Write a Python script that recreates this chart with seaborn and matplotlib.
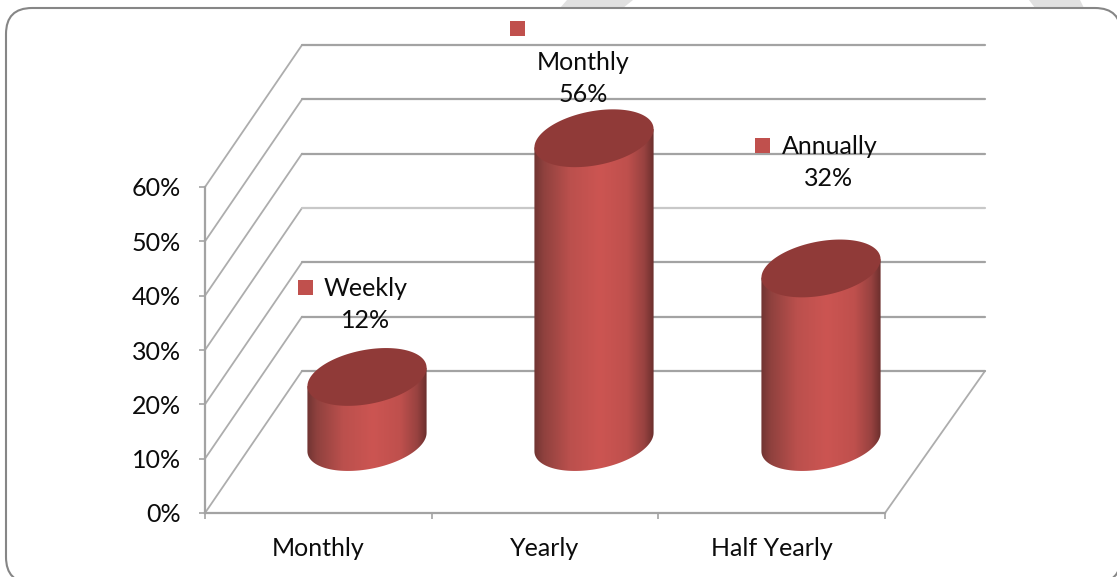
import numpy as np
import pandas as pd
import matplotlib
matplotlib.use("Agg")
import matplotlib.pyplot as plt
import seaborn as sns
from matplotlib.colors import LinearSegmentedColormap
from matplotlib.patches import ConnectionPatch, FancyBboxPatch, PathPatch, Polygon, Rectangle
from matplotlib.path import Path
from matplotlib.transforms import Affine2D

categories = ["Monthly", "Yearly", "Half Yearly"]
values = [0.12, 0.56, 0.32]
y_ticks = [0, 0.1, 0.2, 0.3, 0.4, 0.5, 0.6]
y_tick_labels = ["0%", "10%", "20%", "30%", "40%", "50%", "60%"]
label_names = ["Weekly", "Monthly", "Annually"]
label_values = ["12%", "56%", "32%"]

W, H = 1117, 577
GRID = "#a3a3a3"
TEXT = "#0c0c0c"
FS = 18

sns.set_style("white")
plt.rcParams["font.family"] = ["Lato", "DejaVu Sans"]

fig = plt.figure(figsize=(W / 100, H / 100), dpi=100)
px = Affine2D().scale(1, -1).translate(0, H)


def make_axes(x0, y_top, x1, y_bottom, zorder):
    a = fig.add_axes([x0 / W, 1 - y_bottom / H, (x1 - x0) / W, (y_bottom - y_top) / H], zorder=zorder)
    a.patch.set_alpha(0)
    return a


# frame and the bit of watermark poking over it
for pts in ([(560, 8), (567, 0), (633, 0), (623, 8)], [(1035, 8), (1029, 0), (1080, 0), (1084, 8)]):
    fig.add_artist(Polygon(pts, closed=True, transform=px, fc="#e0e0e0", ec="none", zorder=-3))
fig.add_artist(FancyBboxPatch((32, 34), 1063, 523, boxstyle="round,pad=26,rounding_size=26",
                              transform=px, fc="white", ec="#868686", lw=1.5, zorder=-2))

# back wall, pushed up and right for the fake depth
ax_back = make_axes(302, 45, 985, 371, 1)
ax_back.set_xlim(-0.5, 2.5)
ax_back.set_ylim(0, 0.6)
ax_back.set_xticks([])
ax_back.set_yticks(y_ticks)
ax_back.set_yticklabels([])
ax_back.grid(False)
ax_back.tick_params(length=0)
sns.despine(ax=ax_back, left=True, bottom=True)
for v in y_ticks:
    ax_back.plot([-0.5, 2.5], [v, v], color="#c8c8c8" if v == 0.3 else GRID, lw=1.6, clip_on=False)
ax_back.set_xlim(-0.5, 2.5)

# front axes with ticks and labels
ax = make_axes(205, 187, 885, 513, 1)
ax.set_xlim(-0.5, 2.5)
ax.set_ylim(0, 0.6)
ax.set_yticks(y_ticks)
ax.set_yticklabels(y_tick_labels, fontsize=FS, color=TEXT)
ax.set_xticks([-0.5, 0.5, 1.5, 2.5])
ax.set_xticklabels([])
ax.set_xticks(range(len(categories)), categories, minor=True, fontsize=FS, color=TEXT)
ax.tick_params(axis="y", left=True, length=4.5, width=1.2, color=GRID, pad=13)
ax.tick_params(axis="x", which="major", bottom=True, length=4.5, width=1.2, color=GRID)
ax.tick_params(axis="x", which="minor", bottom=False, length=0, pad=17)
sns.despine(ax=ax)
for side in ("left", "bottom"):
    ax.spines[side].set_color(GRID)
    ax.spines[side].set_linewidth(1.6)

# side wall and floor edges
for v in y_ticks:
    fig.add_artist(ConnectionPatch((-0.5, v), (-0.5, v), "data", "data", axesA=ax, axesB=ax_back,
                                   color="#adadad", lw=1.3, zorder=0.5))
fig.add_artist(ConnectionPatch((2.5, 0), (2.5, 0), "data", "data", axesA=ax, axesB=ax_back,
                               color="#adadad", lw=1.3, zorder=0.5))

# cylinders sit halfway into the depth
ax_bar = make_axes(253.5, 84, 934.5, 474.6, 2)
df = pd.DataFrame({"cat": categories, "val": values})
sns.barplot(data=df, x="cat", y="val", width=0.525, ax=ax_bar)

side_cmap = LinearSegmentedColormap.from_list(
    "cyl", [(0, "#703432"), (0.08, "#8f413e"), (0.3, "#bb504d"), (0.55, "#cc5552"),
            (0.78, "#bf504d"), (0.92, "#984240"), (1, "#6b2f2d")])
grad = np.linspace(0, 1, 256).reshape(1, -1)
TILT = 0.017
SEMI = 0.0505
t = np.linspace(np.pi, 2 * np.pi, 60)
for bar in list(ax_bar.patches):
    bar.set_visible(False)
    x0 = bar.get_x()
    w = bar.get_width()
    cx = x0 + w / 2
    a = w / 2
    top = bar.get_height()
    ex = cx + a * np.cos(t)
    front = np.column_stack([ex, SEMI * np.sin(t) + TILT * np.cos(t)])
    verts = np.vstack([front, [[cx + a, top + TILT], [cx - a, top - TILT], front[0]]])
    body = Path(verts, closed=True)
    im = ax_bar.imshow(grad, extent=[x0, x0 + w, -0.07, top + 0.05], aspect="auto", cmap=side_cmap, zorder=2)
    im.set_clip_path(PathPatch(body, transform=ax_bar.transData))
    tt = np.linspace(0, 2 * np.pi, 120)
    lid = np.column_stack([cx + a * np.cos(tt), top + SEMI * np.sin(tt) + TILT * np.cos(tt)])
    ax_bar.add_patch(Polygon(lid, closed=True, fc="#903a38", ec="none", zorder=3, clip_on=False))
ax_bar.set_xlim(-0.5, 2.5)
ax_bar.set_ylim(-0.06, 0.66)
ax_bar.axis("off")

# floating data labels, key square then name then value
key_pos = [(298, 280), (510, 21), (755, 138)]
name_pos = [(366, 288), (583, 62), (830, 146)]
value_pos = [(366, 321), (583, 95), (829, 178)]
for i in range(len(label_names)):
    fig.add_artist(Rectangle(key_pos[i], 15, 15, transform=px, fc="#c0504d", ec="none", zorder=4))
    fig.text(name_pos[i][0], name_pos[i][1], label_names[i], transform=px, fontsize=FS, color=TEXT,
             ha="center", va="center", zorder=4)
    fig.text(value_pos[i][0], value_pos[i][1], label_values[i], transform=px, fontsize=FS, color=TEXT,
             ha="center", va="center", zorder=4)

fig.savefig("out.png", dpi=100, facecolor="white")
